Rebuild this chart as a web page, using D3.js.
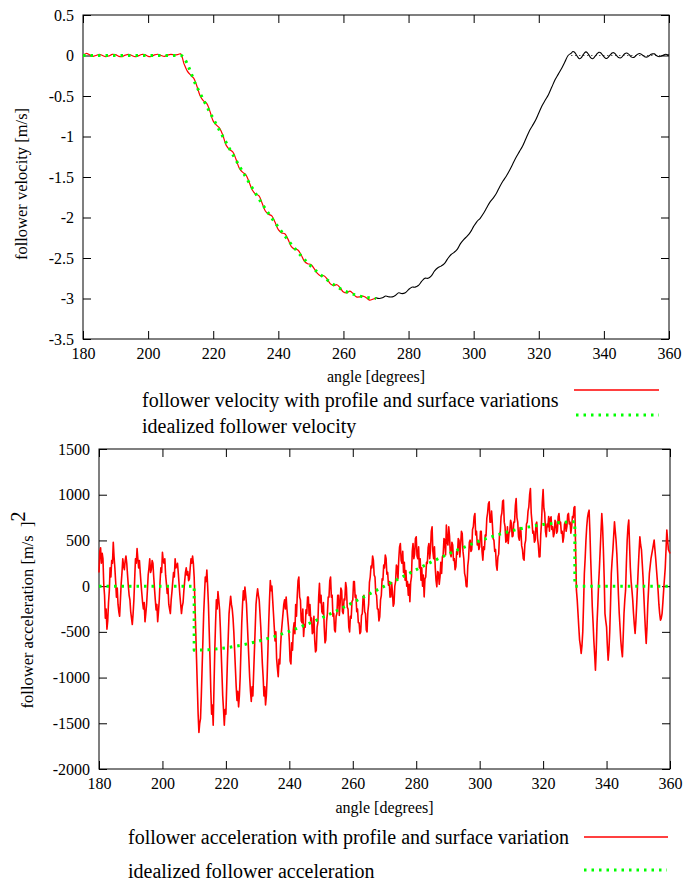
<!DOCTYPE html>
<html>
<head>
<meta charset="utf-8">
<script src="https://d3js.org/d3.v7.min.js"></script>
<style>
body { margin: 0; background: #fff; }
svg text { font-family: "Liberation Serif", "Times New Roman", serif; fill: #000; }
</style>
</head>
<body>
<div id="chart"></div>
<script>
// DATA

let angle_ticks = [180, 200, 220, 240, 260, 280, 300, 320, 340, 360]
let vel_ticks = [-3.5, -3, -2.5, -2, -1.5, -1, -0.5, 0, 0.5]
let acc_ticks = [-2000, -1500, -1000, -500, 0, 500, 1000, 1500]

// follower velocity with profile and surface variations, 180..270 every degree
let vel_real = [
    0.00, 0.025, 0.01, -0.01, 0.00, 0.015, 0.00, -0.015, -0.005, 0.015,
    0.01, -0.01, -0.015, 0.005, 0.015, 0.00, -0.015, -0.005, 0.012, 0.01,
    -0.01, -0.012, 0.008, 0.015, 0.00, -0.01, 0.005, 0.015, 0.008, 0.01,
    0.02, -0.10, -0.19, -0.24, -0.28, -0.38, -0.50, -0.56, -0.59, -0.69,
    -0.81, -0.86, -0.90, -0.99, -1.11, -1.16, -1.19, -1.28, -1.39, -1.44,
    -1.47, -1.56, -1.66, -1.71, -1.73, -1.82, -1.92, -1.96, -1.98, -2.06,
    -2.15, -2.19, -2.20, -2.27, -2.36, -2.39, -2.40, -2.46, -2.54, -2.57,
    -2.58, -2.63, -2.69, -2.72, -2.72, -2.76, -2.82, -2.84, -2.83, -2.87,
    -2.92, -2.93, -2.91, -2.94, -2.98, -2.98, -2.97, -2.99, -3.02, -3.01,
    -2.99
]
let vel_real_angles = d3.range(180, 271, 1)

// idealized follower velocity
let vel_ideal_angles = [180, 185, 190, 195, 200, 205, 210, 215, 220, 225, 230, 235, 240, 245, 250, 255, 260, 265, 270]
let vel_ideal = [0, 0, 0, 0, 0, 0, 0, -0.39, -0.78, -1.15, -1.50, -1.83, -2.12, -2.38, -2.60, -2.77, -2.90, -2.97, -3.00]

// return stroke (black), 270..329 every degree, then 330..360 every half degree
let vel_return_angles = d3.range(270, 330, 1).concat(d3.range(330, 360.5, 0.5))
let vel_return = [
    -2.99, -3.00, -2.99, -2.97, -2.98, -2.98, -2.96, -2.93, -2.94, -2.93,
    -2.89, -2.86, -2.86, -2.84, -2.79, -2.75, -2.75, -2.72, -2.66, -2.62,
    -2.60, -2.57, -2.51, -2.46, -2.43, -2.39, -2.32, -2.27, -2.23, -2.18,
    -2.11, -2.05, -2.01, -1.95, -1.88, -1.81, -1.76, -1.70, -1.62, -1.55,
    -1.49, -1.42, -1.34, -1.26, -1.19, -1.12, -1.03, -0.94, -0.87, -0.80,
    -0.71, -0.62, -0.55, -0.48, -0.39, -0.30, -0.23, -0.16, -0.08, 0.00,
    0.03, 0.05, 0.04, 0.01, -0.02, -0.04, -0.03, 0.00, 0.03, 0.045,
    0.03, 0.00, -0.03, -0.04, -0.025, 0.00, 0.025, 0.04, 0.035, 0.01,
    -0.015, -0.035, -0.035, -0.015, 0.01, 0.03, 0.035, 0.02, -0.005, -0.025,
    -0.03, -0.02, 0.005, 0.025, 0.03, 0.02, 0.00, -0.02, -0.025, -0.015,
    0.005, 0.02, 0.025, 0.015, 0.00, -0.015, -0.02, -0.015, 0.00, 0.015,
    0.02, 0.02, 0.005, -0.01, -0.015, -0.01, 0.00, 0.01, 0.015, 0.01,
    0.005
]
let vel_return_ideal_angles = [330, 360]
let vel_return_ideal = [0, 0]

// follower acceleration with profile and surface variation, 180..360 every quarter degree (5 degrees a row)
let acc_real = [
    150, 380, 420, 250, 360, 300, 20, -100, -350, -250, -470, -380, -180, -50, 200, 100, 280, 250, 480, 320,
    200, 50, -120, -20, -200, -280, -330, -150, 30, 150, 300, 220, 180, 280, 330, 250, 120, 0, -100, -150,
    -280, -350, -420, -300, -150, 80, 300, 250, 410, 300, 200, 280, 150, 30, -80, -180, -250, -180, -390, -300,
    -200, -50, 120, 200, 300, 150, 180, 280, 250, 100, -30, -150, -260, -200, -390, -280, -150, 50, 200, 150,
    370, 280, 250, 300, 120, 30, -80, -20, -200, -250, -300, -150, -60, 50, 150, 100, 300, 200, 220, 250,
    140, 20, -100, -200, -300, -220, -180, -50, 50, 150, 200, 120, 160, 60, 80, 200, 300, 250, 330, 250,
    100, -200, -500, -800, -1100, -1400, -1600, -1500, -1450, -1200, -900, -600, -300, -100, 100, 50, 175, 0, -200, -500,
    -800, -1150, -1400, -1300, -1520, -1100, -700, -400, -150, -250, -60, -150, -250, -450, -700, -950, -1200, -1350, -1520, -1350,
    -1400, -1100, -800, -550, -300, -200, -110, -200, -250, -350, -500, -700, -900, -1100, -1250, -1150, -1320, -1200, -1000, -700,
    -400, -200, -50, -150, -10, -100, -200, -400, -600, -800, -1000, -1150, -1260, -1100, -1200, -950, -700, -450, -200, -100,
    -30, -100, -150, -300, -450, -650, -850, -1000, -1200, -1100, -1300, -1200, -1000, -700, -400, -150, 60, -50, 0, -150,
    -300, -450, -600, -500, -800, -900, -990, -800, -850, -650, -500, -400, -300, -200, -150, -250, -120, -250, -350, -450,
    -600, -820, -850, -620, -700, -480, -400, -520, -200, -330, -100, 60, 100, -120, -150, -380, -400, -250, -550, -420,
    -450, -260, -300, -120, -120, -320, -200, -380, -350, -520, -500, -330, -590, -720, -700, -450, -400, -120, 30, -180,
    -100, -280, -300, -180, -450, -620, -590, -380, -300, -120, -120, 60, 100, -120, -100, -330, -300, -480, -500, -330,
    -300, -100, -100, -320, -200, -20, -50, -280, -300, -140, -150, 40, -20, -230, -250, -450, -500, -330, -350, -170,
    -150, 50, 50, -120, -100, -280, -250, -400, -400, -520, -500, -320, -300, -120, -100, -280, -300, -480, -500, -280,
    -200, 40, 100, 220, 200, 330, 285, 120, 100, -80, -100, -250, -250, -380, -336, -150, -100, 80, 66, 230,
    200, 340, 303, 130, 150, 10, 50, -120, -117, 40, -60, -220, -190, 0, 50, 230, 211, 80, 300, 430,
    467, 280, 250, 380, 150, 260, 66, 170, 0, 50, -100, 20, -171, 40, 100, 380, 467, 300, 350, 520,
    540, 330, 300, 430, 200, 300, 66, 200, 0, 120, -117, 80, 100, 260, 250, 420, 467, 300, 400, 600,
    649, 380, 300, 430, 200, 60, -7, 160, 150, 20, 100, 260, 139, 320, 350, 520, 500, 340, 667, 480,
    450, 650, 550, 350, 321, 480, 450, 280, 300, 180, 211, 380, 350, 520, 500, 320, 450, 600, 576, 380,
    300, 140, 100, 0, -7, 220, 300, 480, 503, 380, 400, 620, 650, 760, 795, 560, 600, 450, 500, 400,
    430, 600, 600, 380, 284, 430, 400, 560, 550, 740, 800, 900, 922, 700, 700, 820, 685, 520, 500, 380,
    400, 230, 175, 320, 350, 560, 600, 760, 800, 930, 940, 700, 650, 480, 500, 650, 467, 580, 600, 720,
    685, 540, 550, 700, 700, 880, 959, 750, 700, 540, 503, 640, 600, 440, 400, 300, 284, 460, 500, 680,
    700, 820, 868, 1000, 1068, 800, 700, 580, 600, 480, 503, 680, 700, 520, 450, 320, 321, 560, 700, 920,
    1057, 850, 800, 600, 540, 680, 650, 760, 600, 740, 758, 620, 650, 540, 576, 720, 700, 580, 600, 760,
    795, 680, 700, 580, 600, 480, 540, 680, 700, 600, 650, 780, 795, 680, 700, 580, 649, 760, 750, 860,
    870, 400, -44, -150, -300, -450, -590, -650, -736, -650, -500, -200, 139, 300, 500, 650, 750, 800, 831, 600,
    300, 50, -226, -400, -600, -750, -919, -700, -400, -200, 29, 200, 400, 600, 795, 650, 400, 100, -300, -380,
    -445, -650, -809, -700, -500, -200, 139, 280, 400, 550, 704, 600, 500, 350, 139, -100, -300, -450, -600, -700,
    -773, -550, -300, -150, -44, 250, 500, 650, 722, 450, 200, 50, -44, -150, -300, -420, -518, -380, -200, 0,
    200, 380, 540, 450, 400, 250, 100, -100, -300, -480, -627, -450, -200, -30, 139, 220, 300, 350, 400, 450,
    503, 400, 300, 180, 66, -50, -200, -300, -372, -350, -300, -180, -44, 80, 200, 400, 613, 500, 400, 380,
    357
]
let acc_real_angles = d3.range(0, 721).map(i => 180 + i * 0.25)

// idealized follower acceleration
let acc_ideal_angles = [180, 210, 210, 215, 220, 225, 230, 235, 240, 245, 250, 255, 260, 265, 270,
    275, 280, 285, 290, 295, 300, 305, 310, 315, 320, 325, 330, 330, 360]
let acc_ideal = [0, 0, -700, -695, -675, -645, -605, -555, -495, -425, -350, -268, -180, -90, 0,
    90, 180, 268, 350, 425, 495, 555, 605, 645, 675, 695, 705, 0, 0]

let zip = (xs, ys) => xs.map((x, i) => ({angle: x, value: ys[i]})).filter(d => d.value !== undefined)


// CHART AREA
let svg = d3.select("#chart").append("svg")
    .attr("width", 698)
    .attr("height", 882)

svg.append("rect").attr("width", 698).attr("height", 882).attr("fill", "#fff")

function draw_panel(p) {
    let g = svg.append("g")
        .attr("transform", "translate(" + p.left + "," + p.top + ")")

    let x = d3.scaleLinear().domain([180, 360]).range([0, p.width])
    let y = d3.scaleLinear().domain(p.y_domain).range([p.height, 0])

    // frame
    g.append("rect")
        .attr("width", p.width)
        .attr("height", p.height)
        .attr("fill", "none")
        .attr("stroke", "#000")
        .attr("stroke-width", 1)

    // axes, ticks pointing inward on all four sides
    let fmt = d => String(d)
    let axes = [
        [d3.axisBottom(x).tickValues(angle_ticks).tickFormat(fmt), "translate(0," + p.height + ")"],
        [d3.axisTop(x).tickValues(angle_ticks).tickFormat(""), null],
        [d3.axisLeft(y).tickValues(p.y_ticks).tickFormat(fmt), null],
        [d3.axisRight(y).tickValues(p.y_ticks).tickFormat(""), "translate(" + p.width + ",0)"]
    ]
    axes.forEach(a => {
        let ag = g.append("g")
        if (a[1]) ag.attr("transform", a[1])
        ag.call(a[0].tickSizeInner(-8).tickSizeOuter(0).tickPadding(9))
        ag.select(".domain").remove()
        ag.selectAll("line").attr("stroke", "#000")
        ag.attr("font-family", null).attr("font-size", 16)
    })

    // lines
    p.series.forEach(s => {
        let line = d3.line()
            .x(d => x(d.angle))
            .y(d => y(d.value))
            .curve(s.curve || d3.curveLinear)
        g.append("path")
            .datum(s.data)
            .attr("d", line)
            .attr("fill", "none")
            .attr("stroke", s.color)
            .attr("stroke-width", s.width)
            .attr("stroke-linejoin", "round")
            .attr("stroke-dasharray", s.dash || null)
    })

    // x title
    svg.append("text")
        .attr("x", p.left + p.width / 2)
        .attr("y", p.xtitle_y)
        .attr("text-anchor", "middle")
        .attr("font-size", 16)
        .text("angle [degrees]")
}

let dotted = "2.5,5"

draw_panel({
    left: 83, top: 15, width: 586, height: 324,
    y_domain: [-3.5, 0.5], y_ticks: vel_ticks, xtitle_y: 382,
    series: [
        {data: zip(vel_return_ideal_angles, vel_return_ideal), color: "#000", width: 1, dash: "1,3"},
        {data: zip(vel_return_angles, vel_return), color: "#000", width: 1.1, curve: d3.curveCatmullRom},
        {data: zip(vel_real_angles, vel_real), color: "#ff0000", width: 1.2, curve: d3.curveCatmullRom},
        {data: zip(vel_ideal_angles, vel_ideal), color: "#00ff00", width: 3, dash: dotted, curve: d3.curveMonotoneX}
    ]
})

draw_panel({
    left: 99, top: 449, width: 571, height: 320,
    y_domain: [-2000, 1500], y_ticks: acc_ticks, xtitle_y: 813,
    series: [
        {data: zip(acc_real_angles, acc_real), color: "#ff0000", width: 1.6},
        {data: zip(acc_ideal_angles, acc_ideal), color: "#00ff00", width: 3, dash: dotted}
    ]
})

// Y TITLES
svg.append("text")
    .attr("transform", "translate(27,184) rotate(-90)")
    .attr("text-anchor", "middle")
    .attr("font-size", 16.5)
    .text("follower velocity [m/s]")

let acc_title = svg.append("text")
    .attr("transform", "translate(33,610) rotate(-90)")
    .attr("text-anchor", "middle")
    .attr("font-size", 16.5)
    .style("white-space", "pre")
acc_title.append("tspan").text("follower acceleration [m/s  ]")
acc_title.append("tspan").attr("dy", "-0.4em").attr("font-size", 20).text("2")

// LEGENDS
let legends = [
    {x: 142, y: 407, text: "follower velocity with profile and surface variations", kx1: 574, kx2: 659, ky: 390, color: "#ff0000", dash: null, w: 1.3},
    {x: 142, y: 433, text: "idealized follower velocity", kx1: 576, kx2: 659, ky: 415, color: "#00ff00", dash: dotted, w: 3},
    {x: 128, y: 844, text: "follower acceleration with profile and surface variation", kx1: 584, kx2: 668, ky: 837, color: "#ff0000", dash: null, w: 1.3},
    {x: 128, y: 878, text: "idealized follower acceleration", kx1: 584, kx2: 667, ky: 870, color: "#00ff00", dash: dotted, w: 3}
]

legends.forEach(l => {
    svg.append("text")
        .attr("x", l.x)
        .attr("y", l.y)
        .attr("font-size", 20)
        .text(l.text)
    svg.append("line")
        .attr("x1", l.kx1).attr("x2", l.kx2)
        .attr("y1", l.ky).attr("y2", l.ky)
        .attr("stroke", l.color)
        .attr("stroke-width", l.w)
        .attr("stroke-dasharray", l.dash)
})
</script>
</body>
</html>
